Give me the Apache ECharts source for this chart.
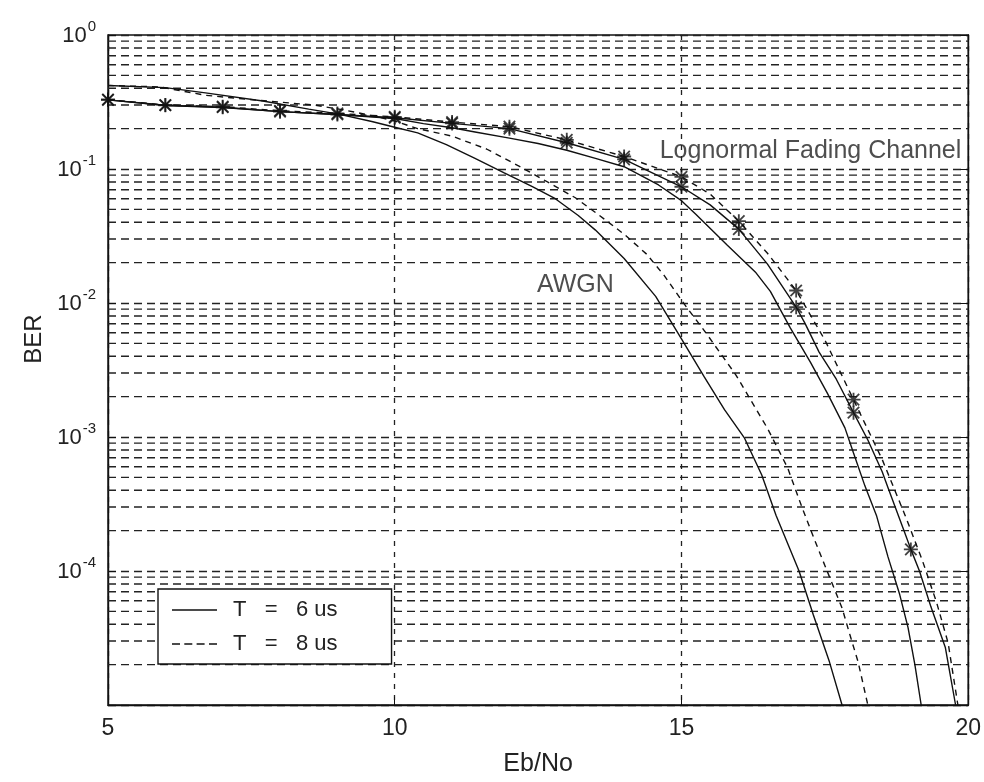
<!DOCTYPE html>
<html>
<head>
<meta charset="utf-8">
<script src="https://cdn.jsdelivr.net/npm/echarts@6/dist/echarts.min.js"></script>
<style>
  html, body { margin: 0; padding: 0; background: #ffffff; }
  #chart { width: 984px; height: 782px; }
</style>
</head>
<body>
<div id="chart"></div>
<script>
// Eb/No (dB) samples and BER values for each curve
const awgnT6X = [5, 6, 6.7, 7.7, 8.5, 9, 9.6, 10, 10.4, 10.9, 11.4, 11.9, 12.4, 12.8, 13.2, 13.5, 14, 14.55, 15, 15.4, 15.75, 16.1, 16.4, 16.65, 17.05, 17.3, 17.58, 17.8];
const awgnT6Y = [0.42, 0.405, 0.37, 0.322, 0.28, 0.258, 0.226, 0.205, 0.186, 0.152, 0.12, 0.094, 0.074, 0.06, 0.045, 0.035, 0.0215, 0.0112, 0.0054, 0.0028, 0.0016, 0.00098, 0.00052, 0.00026, 0.0001, 0.000047, 0.000021, 0.00001];

const awgnT8X = [5, 5.9, 6.7, 7.6, 8.6, 9.15, 9.7, 10, 10.4, 11, 11.6, 12.15, 12.7, 13.15, 13.55, 14, 14.4, 14.7, 15.05, 15.4, 15.95, 16.5, 16.85, 17.1, 17.3, 17.5, 17.8, 17.95, 18.08, 18.25];
const awgnT8Y = [0.42, 0.41, 0.355, 0.326, 0.3, 0.274, 0.245, 0.228, 0.2, 0.176, 0.141, 0.106, 0.0785, 0.061, 0.0457, 0.0326, 0.023, 0.016, 0.0098, 0.0062, 0.0029, 0.00116, 0.00059, 0.0003, 0.00018, 0.00011, 0.000053, 0.000032, 0.000021, 0.00001];

const lognAX = [5, 6, 7, 8, 9, 10, 10.5, 11, 11.4, 12, 12.5, 13, 13.5, 14, 14.6, 15, 15.25, 15.8, 16.3, 16.55, 16.9, 17.25, 17.55, 17.85, 18, 18.2, 18.4, 18.6, 18.8, 18.95, 19.07, 19.18];
const lognAY = [0.328, 0.298, 0.288, 0.268, 0.255, 0.238, 0.218, 0.203, 0.189, 0.17, 0.155, 0.138, 0.12, 0.104, 0.076, 0.058, 0.046, 0.027, 0.0168, 0.0122, 0.0065, 0.0036, 0.0021, 0.00117, 0.00076, 0.00043, 0.00026, 0.000128, 0.000068, 0.000038, 0.00002, 0.00001];

const lognT6X = [5, 6, 7, 8, 9, 10, 11, 12, 13, 14, 15, 15.5, 16, 16.5, 17, 17.15, 17.4, 17.7, 18, 18.25, 18.5, 18.6, 18.9, 19, 19.15, 19.35, 19.6, 19.78];
const lognT6Y = [0.328, 0.299, 0.289, 0.268, 0.255, 0.241, 0.219, 0.2, 0.157, 0.118, 0.0737, 0.054, 0.0356, 0.0195, 0.0093, 0.0071, 0.0043, 0.0027, 0.00152, 0.00095, 0.00055, 0.00042, 0.00019, 0.000145, 0.0001, 0.000054, 0.000027, 0.00001];

const lognT8X = [5, 6, 7, 8, 9, 10, 11, 12, 13, 14, 15, 15.5, 16, 16.5, 17, 17.5, 18, 18.5, 18.9, 19.2, 19.45, 19.65, 19.82];
const lognT8Y = [0.33, 0.3, 0.292, 0.272, 0.26, 0.245, 0.224, 0.207, 0.165, 0.124, 0.0875, 0.065, 0.0408, 0.0235, 0.0124, 0.0053, 0.0019, 0.00068, 0.00026, 0.00012, 0.000058, 0.000029, 0.00001];

// Eb/No points carrying a simulation marker
const markerT6X = [5, 6, 7, 8, 9, 10, 11, 12, 13, 14, 15, 16, 17, 18, 19];
const markerT8X = [5, 6, 7, 8, 9, 10, 11, 12, 13, 14, 15, 16, 17, 18];

const legendNames = ['T = 6 us', 'T = 8 us'];
const yExponents = [0, -1, -2, -3, -4];
const curveLabels = ['Lognormal Fading Channel', 'AWGN'];

const zip = (xs, ys) => xs.map((x, i) => [x, ys[i]]);
const pickAt = (xs, ys, keep) => zip(xs, ys).filter(p => keep.indexOf(p[0]) !== -1);

// 2..9 x 10^k levels for the dashed log grid
const minorLevels = [];
for (let e = -5; e < 0; e++) {
  for (let m = 2; m <= 9; m++) minorLevels.push(+(m * Math.pow(10, e)).toPrecision(3));
}

const ink = '#111111';
const gridInk = '#222222';
const font = 'Liberation Sans, Arial, sans-serif';
const asterisk = 'path://M8.7 0H11.3V20H8.7Z M0 8.7H20V11.3H0Z M2.78 0.94L19.06 17.22L17.22 19.06L0.94 2.78Z M17.22 0.94L19.06 2.78L2.78 19.06L0.94 17.22Z';

// legend swatches: a 45x22 box holding a solid or dashed stroke
const boxCorners = 'M0 0H0.01V0.01H0Z M44.99 21.99H45V22H44.99Z ';
const solidSwatch = 'path://' + boxCorners + 'M0 10.2H45V11.8H0Z';
const dashedSwatch = 'path://' + boxCorners + 'M0 10.2H8V11.8H0Z M12.3 10.2H20.3V11.8H12.3Z M24.6 10.2H32.6V11.8H24.6Z M37 10.2H45V11.8H37Z';

const chart = echarts.init(document.getElementById('chart'), null, { renderer: 'canvas' });

const lineSeries = (name, xs, ys, type) => ({
  name: name,
  type: 'line',
  data: zip(xs, ys),
  symbol: 'none',
  smooth: false,
  z: 3,
  lineStyle: { color: ink, width: 1.4, type: type },
  itemStyle: { color: ink }
});

const option = {
  animation: false,
  backgroundColor: '#ffffff',
  textStyle: { fontFamily: font, color: ink },
  grid: { left: 108, right: 12, top: 35, bottom: 75, show: true, borderColor: ink, borderWidth: 1.4, backgroundColor: 'transparent' },
  legend: {
    data: [
      { name: legendNames[0], icon: solidSwatch },
      { name: legendNames[1], icon: dashedSwatch }
    ],
    orient: 'vertical',
    left: 158,
    top: 589,
    itemWidth: 45,
    itemHeight: 22,
    itemGap: 12,
    padding: [10, 54, 9, 14],
    backgroundColor: '#ffffff',
    borderColor: ink,
    borderWidth: 1.4,
    selectedMode: false,
    itemStyle: { color: ink },
    formatter: name => name.replace(' = ', '   =   '),
    textStyle: { fontFamily: font, fontSize: 22, color: '#222', padding: [0, 0, 0, 11] }
  },
  xAxis: [{
    type: 'value',
    min: 5,
    max: 20,
    interval: 5,
    name: 'Eb/No',
    nameLocation: 'middle',
    nameGap: 47,
    nameTextStyle: { fontFamily: font, fontSize: 25, color: '#222' },
    axisLine: { show: true, lineStyle: { color: ink, width: 1.4 } },
    axisTick: { show: true, inside: true, length: 8, lineStyle: { color: ink } },
    axisLabel: { fontFamily: font, fontSize: 23, color: '#222', margin: 12 },
    splitLine: { show: true, lineStyle: { color: gridInk, width: 1.3, type: [5, 6] } }
  }],
  yAxis: [{
    type: 'log',
    logBase: 10,
    min: 1e-5,
    max: 1,
    name: 'BER',
    nameLocation: 'middle',
    nameGap: 62,
    nameTextStyle: { fontFamily: font, fontSize: 24, color: '#222', padding: [0, 0, 0, 62] },
    axisLine: { show: true, lineStyle: { color: ink, width: 1.4 } },
    axisTick: { show: true, inside: true, length: 8, lineStyle: { color: ink } },
    axisLabel: {
      margin: 12,
      formatter: function (v) {
        const e = Math.round(Math.log10(v));
        if (yExponents.indexOf(e) === -1) return '';
        return '{b|10}{s|' + e + '}';
      },
      rich: {
        b: { fontFamily: font, fontSize: 22, color: '#222', verticalAlign: 'bottom', lineHeight: 24 },
        s: { fontFamily: font, fontSize: 15, color: '#222', verticalAlign: 'bottom', lineHeight: 16, padding: [0, 0, 13, 1] }
      }
    },
    splitLine: { show: true, lineStyle: { color: gridInk, width: 1.4, type: [8, 5] } }
  }, {
    type: 'log',
    logBase: 10,
    min: 1e-5,
    max: 1,
    position: 'right',
    axisLine: { show: true, lineStyle: { color: ink, width: 1.4 } },
    axisTick: { show: true, inside: true, length: 8, lineStyle: { color: ink } },
    axisLabel: { show: false },
    splitLine: { show: false }
  }],
  series: [
    {
      name: 'minor grid',
      type: 'custom',
      silent: true,
      z: 1,
      clip: true,
      data: minorLevels.map(v => [5, v]),
      renderItem: function (params, api) {
        const cs = params.coordSys;
        const y = api.coord([api.value(0), api.value(1)])[1];
        return {
          type: 'line',
          shape: { x1: cs.x, y1: y, x2: cs.x + cs.width, y2: y },
          style: { stroke: gridInk, lineWidth: 1.4, lineDash: [8, 5], fill: null }
        };
      }
    },
    lineSeries(legendNames[0], awgnT6X, awgnT6Y, 'solid'),
    lineSeries(legendNames[1], awgnT8X, awgnT8Y, [6, 5]),
    lineSeries(legendNames[0], lognAX, lognAY, 'solid'),
    lineSeries(legendNames[0], lognT6X, lognT6Y, 'solid'),
    lineSeries(legendNames[1], lognT8X, lognT8Y, [6, 5]),
    {
      name: legendNames[0],
      type: 'scatter',
      data: pickAt(lognT6X, lognT6Y, markerT6X),
      symbol: asterisk,
      symbolSize: 14,
      z: 4,
      itemStyle: { color: ink }
    },
    {
      name: legendNames[1],
      type: 'scatter',
      data: pickAt(lognT8X, lognT8Y, markerT8X),
      symbol: asterisk,
      symbolSize: 14,
      z: 4,
      itemStyle: { color: ink }
    },
    {
      name: 'curve labels',
      type: 'scatter',
      symbolSize: 0,
      silent: true,
      z: 5,
      data: [
        { value: [17.25, 0.137], label: { formatter: curveLabels[0] } },
        { value: [13.15, 0.0135], label: { formatter: curveLabels[1] } }
      ],
      label: {
        show: true,
        position: 'inside',
        fontFamily: font,
        fontSize: 25,
        color: '#222',
        backgroundColor: 'transparent'
      }
    }
  ]
};

chart.setOption(option);
</script>
</body>
</html>
